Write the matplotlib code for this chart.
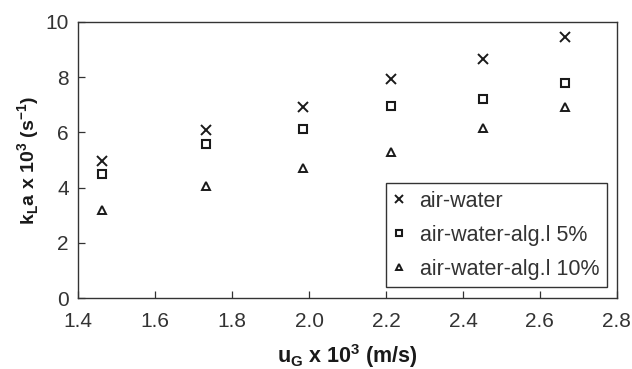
#!/usr/bin/env python3

import matplotlib
matplotlib.use("Agg")
import matplotlib.pyplot as plt
from matplotlib.ticker import FormatStrFormatter

# superficial gas velocity (x 10^3 m/s)
u_g = [1.462, 1.732, 1.984, 2.213, 2.451, 2.666]

# kLa x 10^3 (1/s)
kla_water = [4.96, 6.08, 6.93, 7.93, 8.65, 9.44]
kla_alg5 = [4.48, 5.57, 6.13, 6.95, 7.21, 7.77]
kla_alg10 = [3.19, 4.06, 4.70, 5.30, 6.17, 6.91]

labels = ["air-water", "air-water-alg.l 5%", "air-water-alg.l 10%"]

x_ticks = [1.4, 1.6, 1.8, 2.0, 2.2, 2.4, 2.6, 2.8]
y_ticks = [0, 2, 4, 6, 8, 10]

plt.rcParams["font.family"] = ["Liberation Sans", "DejaVu Sans"]
plt.rcParams["mathtext.fontset"] = "custom"
plt.rcParams["mathtext.bf"] = "Liberation Sans:bold"
plt.rcParams["mathtext.rm"] = "Liberation Sans"

ink = "#1a1a1a"
grey = "#333333"

fig = plt.figure(figsize=(6.32, 3.69), dpi=100)
ax = fig.add_axes([0.124, 0.1916, 0.852, 0.7496])

ax.plot(u_g, kla_water, linestyle="none", marker="x", markersize=7.5,
        markeredgewidth=1.4, color=ink, label=labels[0])
ax.plot(u_g, kla_alg5, linestyle="none", marker="s", markersize=6,
        markeredgewidth=1.5, markerfacecolor="none", color=ink, label=labels[1])
ax.plot(u_g, kla_alg10, linestyle="none", marker="^", markersize=6,
        markeredgewidth=1.4, markerfacecolor="none", color=ink, label=labels[2])

ax.set_xlim(1.4, 2.8)
ax.set_ylim(0, 10)
ax.set_xticks(x_ticks)
ax.set_yticks(y_ticks)
ax.xaxis.set_major_formatter(FormatStrFormatter("%.1f"))

ax.tick_params(direction="in", length=5, width=0.9, labelsize=15,
               colors=grey, labelcolor=grey)
ax.tick_params(axis="x", pad=10)
ax.tick_params(axis="y", pad=7)
for side in ax.spines.values():
    side.set_linewidth(1.0)
    side.set_color(grey)

ax.set_xlabel(r"u$_\mathbf{G}$ x 10$^\mathbf{3}$ (m/s)", fontsize=15.5,
              fontweight="bold", color=ink, labelpad=8)
ax.set_ylabel(r"k$_\mathbf{L}$a x 10$^\mathbf{3}$ (s$^\mathbf{-1}$)", fontsize=14,
              fontweight="bold", color=ink, labelpad=2)

leg = ax.legend(loc="lower right", bbox_to_anchor=(0.981, 0.040), fontsize=15.5,
                frameon=True, fancybox=False, framealpha=1, edgecolor=grey,
                markerscale=0.75, handlelength=0.45, handletextpad=0.75,
                borderpad=0.35, labelspacing=0.6, borderaxespad=0)
leg.get_frame().set_linewidth(1.0)
for t in leg.get_texts():
    t.set_color(grey)

fig.savefig("out.png", dpi=100, facecolor="white")
